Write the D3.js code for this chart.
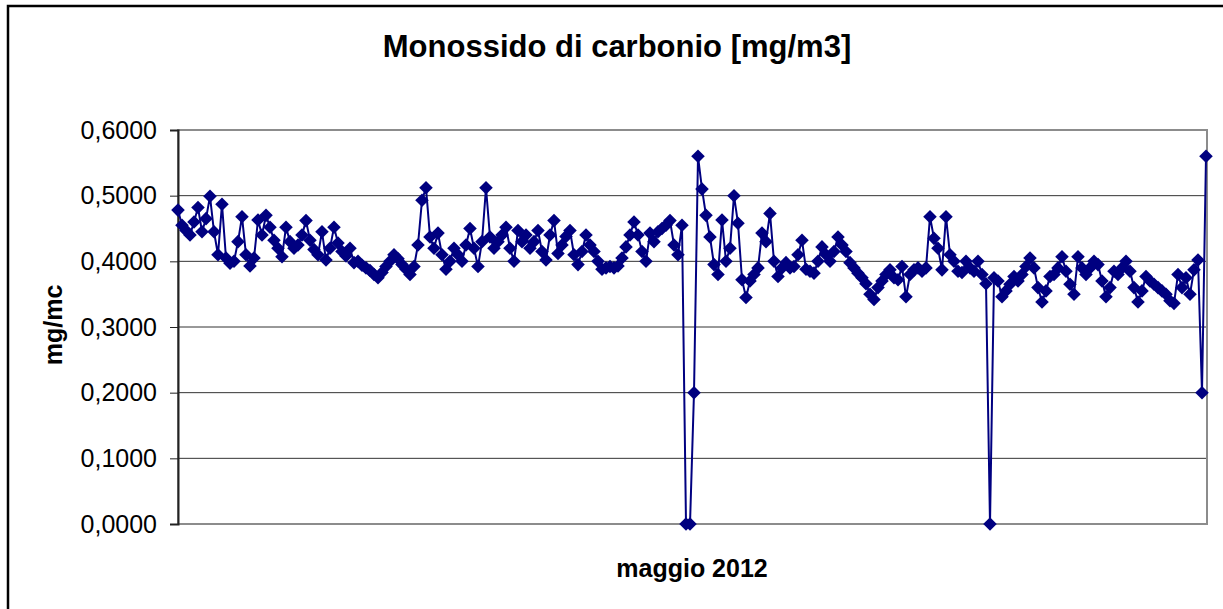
<!DOCTYPE html>
<html>
<head>
<meta charset="utf-8">
<script src="https://cdn.jsdelivr.net/npm/d3@7"></script>
<style>
	body { margin: 0; background: #fff; }
	svg { display: block; }
	text { font-family: Arial, "Liberation Sans", sans-serif; }
</style>
</head>
<body>
<script>

	// chart texts
	var titolo = "Monossido di carbonio [mg/m3]";
	var asseX = "maggio 2012";
	var asseY = "mg/mc";

	// y ticks
	var yTicks = [0, 0.1, 0.2, 0.3, 0.4, 0.5, 0.6];

	// CO readings, May 2012 (in order)
	var valori = [
		0.478, 0.455, 0.447, 0.44, 0.46, 0.482, 0.445, 0.465, 0.499, 0.445,
		0.41, 0.487, 0.405, 0.397, 0.40, 0.43, 0.468, 0.41, 0.393, 0.405,
		0.463, 0.44, 0.47, 0.452, 0.432, 0.42, 0.407, 0.452, 0.43, 0.42,
		0.425, 0.44, 0.462, 0.432, 0.418, 0.41, 0.445, 0.402, 0.42, 0.452,
		0.428, 0.415, 0.408, 0.42, 0.398, 0.40, 0.394, 0.39, 0.386, 0.38,
		0.375, 0.383, 0.392, 0.40, 0.41, 0.404, 0.395, 0.388, 0.38, 0.392,
		0.425, 0.493, 0.512, 0.437, 0.42, 0.443, 0.41, 0.388, 0.40, 0.42,
		0.41, 0.40, 0.425, 0.45, 0.42, 0.392, 0.43, 0.512, 0.437, 0.42,
		0.43, 0.44, 0.452, 0.42, 0.40, 0.447, 0.43, 0.44, 0.42, 0.43,
		0.447, 0.415, 0.402, 0.44, 0.462, 0.412, 0.425, 0.438, 0.447, 0.41,
		0.395, 0.415, 0.44, 0.425, 0.415, 0.40, 0.388, 0.39, 0.392, 0.39,
		0.393, 0.405, 0.422, 0.44, 0.46, 0.44, 0.415, 0.40, 0.443, 0.43,
		0.445, 0.45, 0.455, 0.462, 0.425, 0.41, 0.455, 0, 0, 0.2,
		0.56, 0.51, 0.47, 0.437, 0.395, 0.38, 0.463, 0.40, 0.42, 0.50,
		0.458, 0.372, 0.345, 0.37, 0.38, 0.39, 0.443, 0.43, 0.473, 0.40,
		0.377, 0.39, 0.398, 0.39, 0.392, 0.41, 0.432, 0.388, 0.385, 0.382,
		0.40, 0.422, 0.41, 0.40, 0.415, 0.437, 0.425, 0.415, 0.398, 0.39,
		0.382, 0.375, 0.366, 0.35, 0.342, 0.36, 0.37, 0.38, 0.387, 0.375,
		0.372, 0.392, 0.346, 0.38, 0.387, 0.39, 0.385, 0.39, 0.468, 0.435,
		0.42, 0.387, 0.468, 0.41, 0.40, 0.385, 0.383, 0.40, 0.39, 0.385,
		0.40, 0.38, 0.366, 0, 0.375, 0.37, 0.346, 0.355, 0.365, 0.377,
		0.37, 0.38, 0.392, 0.405, 0.39, 0.36, 0.338, 0.355, 0.377, 0.38,
		0.39, 0.407, 0.385, 0.365, 0.35, 0.407, 0.39, 0.38, 0.39, 0.40,
		0.395, 0.37, 0.346, 0.36, 0.385, 0.38, 0.39, 0.40, 0.385, 0.36,
		0.338, 0.355, 0.377, 0.37, 0.365, 0.36, 0.355, 0.35, 0.34, 0.336,
		0.38, 0.36, 0.375, 0.35, 0.387, 0.402, 0.2, 0.56
	];

	var w = 1223;
	var h = 609;
	var margin = {top: 130, right: 16, bottom: 85, left: 178};

	var svg = d3.select("body")
				.append("svg")
				.attr("width", w)
				.attr("height", h);

	// outer frame (only left and top edges are inside the picture)
	svg.append("rect")
		.attr("x", 8)
		.attr("y", 6)
		.attr("width", w + 20)
		.attr("height", h + 20)
		.attr("fill", "white")
		.attr("stroke", "black")
		.attr("stroke-width", 2.5);

	var x = d3.scaleLinear()
			.domain([0, valori.length - 1])
			.range([margin.left, w - margin.right - 1]);

	var y = d3.scaleLinear()
			.domain([0, 0.6])
			.range([h - margin.bottom, margin.top]);

	var it = d3.formatLocale({decimal: ",", thousands: ".", grouping: [3], currency: ["", " €"]});

	// grid lines
	svg.selectAll("line.grid")
		.data(yTicks.slice(1, -1))
		.enter()
		.append("line")
		.attr("class", "grid")
		.attr("x1", margin.left)
		.attr("x2", w - margin.right)
		.attr("y1", function(d) { return y(d); })
		.attr("y2", function(d) { return y(d); })
		.attr("stroke", "#333")
		.attr("stroke-width", 1);

	// plot area border (grey)
	svg.append("rect")
		.attr("x", margin.left)
		.attr("y", y(0.6))
		.attr("width", w - margin.right - margin.left)
		.attr("height", y(0) - y(0.6))
		.attr("fill", "none")
		.attr("stroke", "#8c8c8c")
		.attr("stroke-width", 2);

	// y axis
	var yAxis = d3.axisLeft(y)
			.tickValues(yTicks)
			.tickFormat(it.format(".4f"))
			.tickSize(8)
			.tickPadding(13);

	var gy = svg.append("g")
		.attr("transform", "translate(" + margin.left + ",0)")
		.call(yAxis);

	gy.select(".domain")
		.attr("stroke", "#222")
		.attr("stroke-width", 2);

	gy.selectAll(".tick line")
		.attr("stroke", "#222");

	gy.selectAll("text")
		.attr("font-family", "Arial, 'Liberation Sans', sans-serif")
		.attr("font-size", "25px")
		.attr("fill", "black");

	// series
	var line = d3.line()
		.x(function(d, i) { return x(i); })
		.y(function(d) { return y(d); });

	svg.append("path")
		.datum(valori)
		.attr("d", line)
		.attr("fill", "none")
		.attr("stroke", "#000080")
		.attr("stroke-width", 2);

	var diamond = d3.symbol().type(d3.symbolSquare).size(92);

	svg.selectAll("path.pt")
		.data(valori)
		.enter()
		.append("path")
		.attr("class", "pt")
		.attr("d", diamond)
		.attr("transform", function(d, i) {
			return "translate(" + x(i) + "," + y(d) + ") rotate(45)";
		})
		.attr("fill", "#000080");

	// titles
	svg.append("text")
		.text(titolo)
		.attr("x", 617)
		.attr("y", 57)
		.attr("text-anchor", "middle")
		.attr("font-weight", "bold")
		.attr("font-size", "31px");

	svg.append("text")
		.text(asseX)
		.attr("x", 692)
		.attr("y", 577)
		.attr("text-anchor", "middle")
		.attr("font-weight", "bold")
		.attr("font-size", "25px");

	svg.append("text")
		.text(asseY)
		.attr("transform", "translate(62,325) rotate(-90)")
		.attr("text-anchor", "middle")
		.attr("font-weight", "bold")
		.attr("font-size", "25px");

</script>
</body>
</html>
